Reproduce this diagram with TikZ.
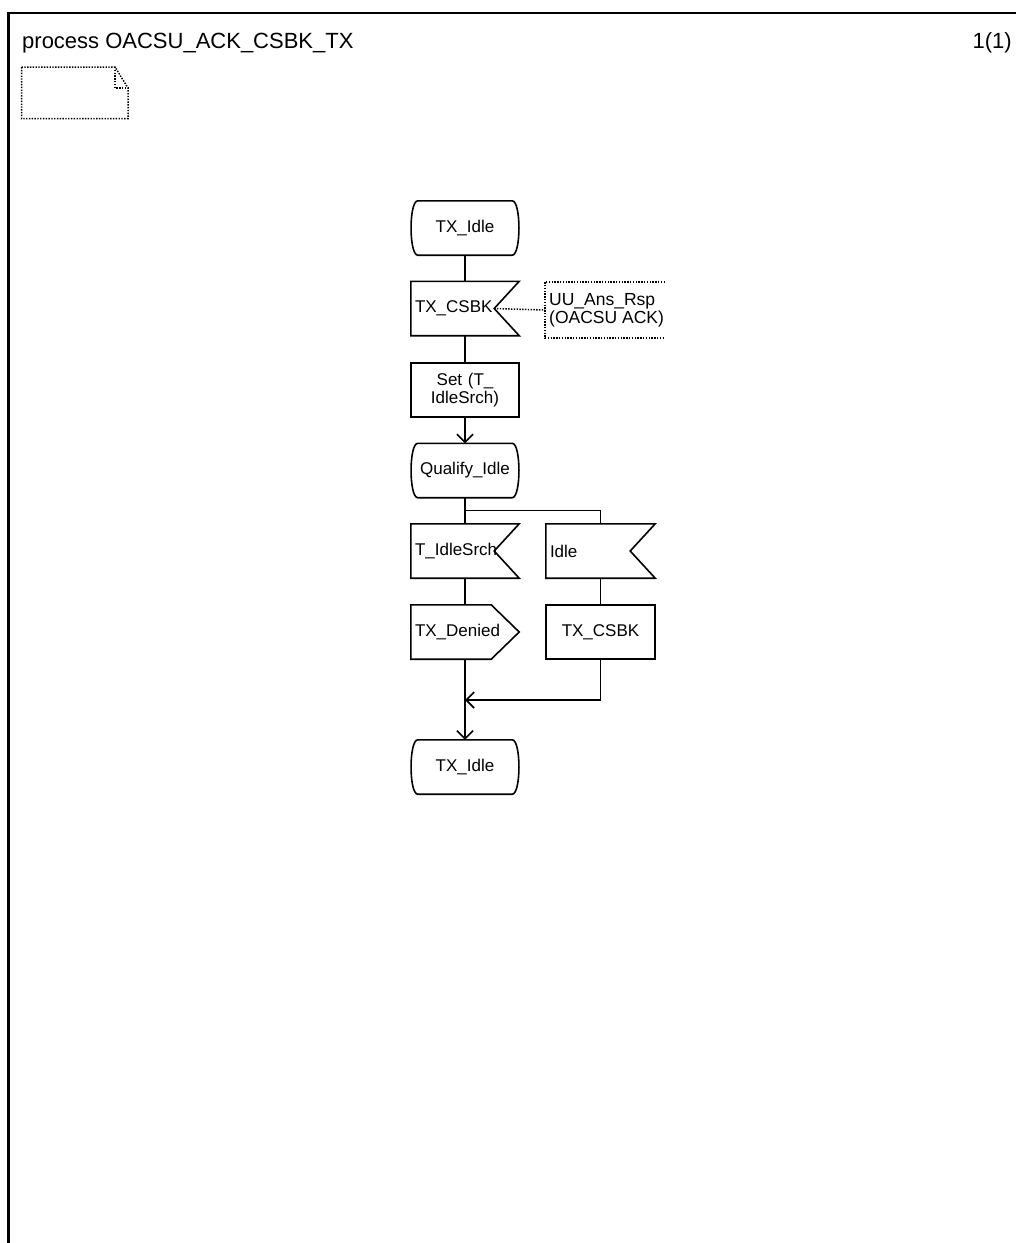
\documentclass[tikz,border=0pt]{standalone}
\usepackage{fontspec}
\setmainfont{Liberation Sans}
\usetikzlibrary{arrows.meta,calc}
\begin{document}
\begin{tikzpicture}[x=1pt,y=-1pt,
  sym/.style={draw=none,minimum width=108pt,minimum height=54pt,inner sep=4pt,font=\fontsize{17}{18}\selectfont},
  symleft/.style={sym,text width=100pt,align=left},
  symctr/.style={sym,text width=100pt,align=center},
  flow/.style={line width=1.6pt},
  arr/.style={flow,-{Straight Barb[length=8pt,width=16pt,line width=1.6pt]}},
  dots/.style={line width=1.5pt,dash pattern=on 1.4pt off 1.4pt},
  frame/.style={line width=2.6pt}
]
\useasboundingbox (0,0) rectangle (1016,1243);
% frame
\draw[frame] (8.7,1250) -- (8.7,13) -- (1030,13);
\node[anchor=base west,inner sep=0pt,font=\fontsize{22}{24}\selectfont] (title) at (22,48) {process OACSU\_ACK\_CSBK\_TX};
\node[anchor=base east,inner sep=0pt,font=\fontsize{22}{24}\selectfont] (page) at (1012,48) {1(1)};
% text symbol (comment note)
\draw[dots] (21.5,67) -- (115,67) -- (128,88) -- (128,118.5) -- (21.5,118.5) -- cycle;
\draw[dots] (115,67) -- (115,88) -- (128,88);

% nodes
\node[symctr] (s1) at (465,228) {TX\_Idle};
\node[symleft] (in1) at (465,308.5) {TX\_CSBK};
\node[symctr,minimum height=54pt] (t1) at (465,390) {Set (T\_\\IdleSrch)};
\node[symctr] (s2) at (465,470.5) {Qualify\_Idle};
\node[symleft] (in2) at (465,551) {T\_IdleSrch};
\node[symleft,minimum width=109pt,text width=101pt] (in3) at (600.5,551) {Idle};
\node[symleft] (o1) at (465,632) {TX\_Denied};
\node[symctr,minimum width=109pt,text width=101pt] (t2) at (600.5,632) {TX\_CSBK};
\node[symctr] (s3) at (465,767) {TX\_Idle};
\node[draw=none,minimum height=56pt,align=left,inner sep=4pt,font=\fontsize{17.5}{18}\selectfont,anchor=west] (c1) at (545,310) {UU\_Ans\_Rsp\\(OACSU ACK)};

% state symbols
\foreach \n in {s1,s2,s3}{
  \draw[flow] ($(\n.north west)+(7,0)$) -- ($(\n.north east)+(-7,0)$)
    .. controls ($(\n.north east)+(2,0)$) and ($(\n.south east)+(2,0)$) .. ($(\n.south east)+(-7,0)$)
    -- ($(\n.south west)+(7,0)$)
    .. controls ($(\n.south west)+(-2,0)$) and ($(\n.north west)+(-2,0)$) .. cycle;
}
% input symbols
\foreach \n in {in1,in2,in3}{
  \draw[flow] (\n.north west) -- (\n.north east) -- ($(\n.east)+(-25,0)$) -- (\n.south east) -- (\n.south west) -- cycle;
}
% task symbols
\draw[flow] (t1.north west) rectangle (t1.south east);
\draw[flow] (t2.north west) rectangle (t2.south east);
% output symbol
\draw[flow] (o1.north west) -- ($(o1.north east)+(-28,0)$) -- (o1.east) -- ($(o1.south east)+(-28,0)$) -- (o1.south west) -- cycle;
% comment symbol
\draw[dots] ($(c1.north west)+(120,0)$) -- (c1.north west) -- (c1.south west) -- ($(c1.south west)+(120,0)$);
\coordinate (in1n) at ($(in1.east)+(-25,0)$);
\draw[dots] (in1n) -- (c1.west);

% connectors
\draw[flow] (s1.south) -- (in1.north);
\draw[flow] (in1.south) -- (t1.north);
\draw[arr] (t1.south) -- (s2.north);
\draw[flow] (s2.south) -- (in2.north);
\coordinate (j1) at ($(s2.south)!0.49!(in2.north)$);
\draw[flow] (j1) -| (in3.north);
\draw[flow] (in2.south) -- (o1.north);
\draw[flow] (in3.south) -- (t2.north);
\coordinate (j2) at (465,700);
\draw[arr] (t2.south) |- (j2);
\draw[arr] (o1.south) -- (s3.north);
\end{tikzpicture}
\end{document}
